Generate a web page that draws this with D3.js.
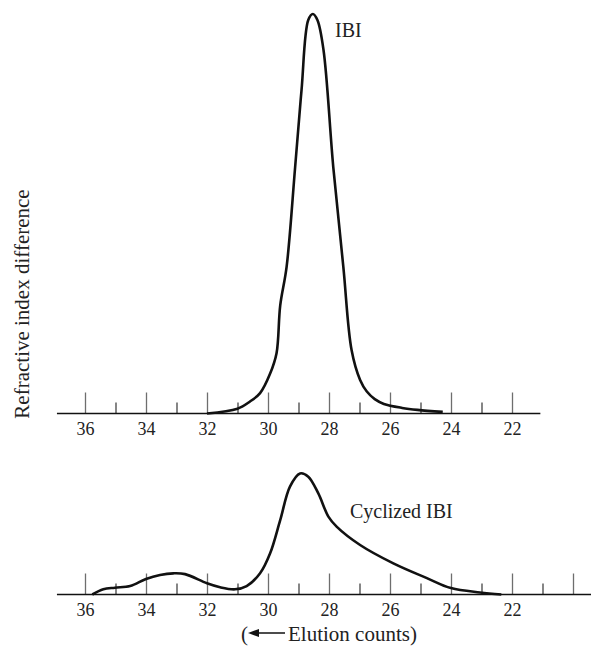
<!DOCTYPE html>
<html>
<head>
<meta charset="utf-8">
<script src="https://cdn.jsdelivr.net/npm/d3@7"></script>
<style>
body { margin: 0; background: #fff; }
svg { display: block; font-family: "Liberation Serif", "Times New Roman", serif; }
</style>
</head>
<body>
<svg id="chart" width="591" height="648"></svg>
<script>
// elution count vs refractive index signal (same arbitrary units, peak of IBI = 100)
const ibiCounts = [32.0, 31.0, 30.59, 30.26, 29.93, 29.72, 29.6, 29.39, 29.11, 28.9, 28.68, 28.53, 28.38, 28.18, 27.86, 27.53, 27.26, 26.98, 26.76, 26.5, 26.2, 25.6, 25.1, 24.27];
const ibiSignal = [0, 1.2, 3.0, 5.1, 10.0, 15.1, 27.0, 36.7, 61.7, 81.0, 98.5, 100, 98.5, 91.0, 61.7, 36.7, 15.9, 8.4, 5.5, 3.6, 2.4, 1.4, 0.9, 0.4];

const cycCounts = [35.76, 35.4, 35.02, 34.52, 34.0, 33.54, 33.1, 32.72, 32.0, 31.57, 31.08, 30.7, 30.26, 29.93, 29.6, 29.28, 28.95, 28.68, 28.35, 28.02, 27.75, 26.98, 25.89, 24.79, 24.0, 23.05, 22.35];
const cycSignal = [0, 1.3, 1.7, 2.1, 3.9, 4.9, 5.3, 5.1, 2.8, 1.8, 1.3, 2.1, 5.3, 10.3, 18.6, 27.0, 30.3, 29.5, 25.3, 19.5, 17.0, 12.4, 7.8, 4.1, 1.6, 0.5, 0];

const upperMajor = [36, 34, 32, 30, 28, 26, 24, 22];
const upperMinor = [35, 33, 31, 29, 27, 25, 23];
const lowerMajor = [36, 34, 32, 30, 28, 26, 24, 22, 20];
const lowerMinor = [35, 33, 31, 29, 27, 25, 23, 21];
const lowerLabels = [36, 34, 32, 30, 28, 26, 24, 22];

const svg = d3.select('#chart');

const x = d3.scaleLinear().domain([36, 22]).range([85, 512]);
const yUpper = d3.scaleLinear().domain([0, 100]).range([413.5, 14]);
const yLower = d3.scaleLinear().domain([0, 100]).range([594.5, 195]);

function drawAxis(base, major, minor, labels, domainEnd)
{
    const g = svg.append('g').attr('transform', `translate(0,${base})`);

    g.append('g')
        .call(d3.axisTop(x).tickValues(major).tickSize(21).tickFormat(''))
        .call(a => a.select('.domain').remove())
        .selectAll('line').attr('stroke', '#6e6e6e').attr('stroke-width', 1.3);

    g.append('g')
        .call(d3.axisTop(x).tickValues(minor).tickSize(11).tickFormat(''))
        .call(a => a.select('.domain').remove())
        .selectAll('line').attr('stroke', '#222').attr('stroke-width', 1.1);

    g.append('g')
        .call(d3.axisBottom(x).tickValues(labels).tickSize(0).tickPadding(9).tickFormat(d3.format('d')))
        .call(a => a.select('.domain').remove())
        .selectAll('text')
        .attr('font-family', '"Liberation Serif", serif')
        .attr('font-size', 18)
        .attr('fill', '#222');

    g.append('line')
        .attr('x1', x(36.92)).attr('x2', x(domainEnd))
        .attr('stroke', '#111').attr('stroke-width', 1.6);
}

drawAxis(413.5, upperMajor, upperMinor, upperMajor, 21.07);
drawAxis(594.5, lowerMajor, lowerMinor, lowerLabels, 19.4);

function curve(counts, signal, y)
{
    const line = d3.line()
        .curve(d3.curveCatmullRom.alpha(0.5))
        .x(d => x(d[0]))
        .y(d => y(d[1]));

    svg.append('path')
        .attr('d', line(counts.map((c, i) => [c, signal[i]])))
        .attr('fill', 'none')
        .attr('stroke', '#111')
        .attr('stroke-width', 2.6)
        .attr('stroke-linejoin', 'round');
}

curve(ibiCounts, ibiSignal, yUpper);
curve(cycCounts, cycSignal, yLower);

// labels
svg.append('text')
    .attr('x', 335).attr('y', 37)
    .attr('font-size', 20).attr('fill', '#222')
    .text('IBI');

svg.append('text')
    .attr('x', 350).attr('y', 518)
    .attr('font-size', 20).attr('fill', '#222')
    .text('Cyclized IBI');

svg.append('text')
    .attr('transform', 'translate(29,304) rotate(-90)')
    .attr('text-anchor', 'middle')
    .attr('font-size', 21).attr('fill', '#222')
    .text('Refractive index difference');

// x title with arrow
svg.append('text')
    .attr('x', 241).attr('y', 641)
    .attr('font-size', 21).attr('fill', '#222')
    .text('(');

svg.append('line')
    .attr('x1', 256).attr('x2', 285)
    .attr('y1', 633).attr('y2', 633)
    .attr('stroke', '#111').attr('stroke-width', 1.5);

svg.append('path')
    .attr('d', 'M248,633 L259,629 L259,637 Z')
    .attr('fill', '#111');

svg.append('text')
    .attr('x', 288).attr('y', 641)
    .attr('font-size', 21).attr('fill', '#222')
    .text('Elution counts)');
</script>
</body>
</html>
